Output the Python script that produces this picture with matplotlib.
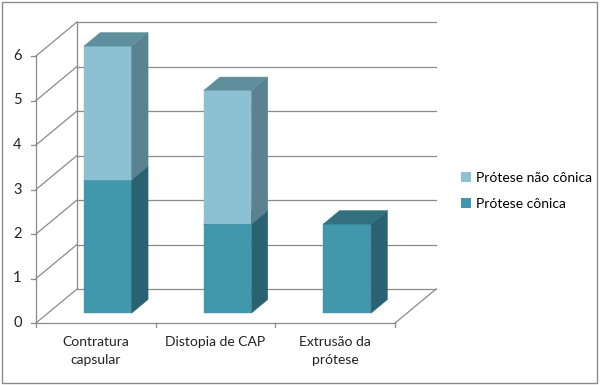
import matplotlib.pyplot as plt
from matplotlib.patches import Polygon, Rectangle

categories = ['Contratura\ncapsular', 'Distopia de CAP', 'Extrusão da\nprótese']
conica = [3, 2, 2]
nao_conica = [3, 3, 0]
series = [('Prótese cônica', conica), ('Prótese não cônica', nao_conica)]
yticks = [0, 1, 2, 3, 4, 5, 6]

# colours per series: front, side, top
front_colors = ['#4198ac', '#8cc1d3']
side_colors = ['#2b6272', '#5b8290']
top_colors = ['#32707f', '#5f8f9d']
grid_color = '#8a8a8a'

plt.rcParams['font.family'] = ['Lato', 'DejaVu Sans']

fig = plt.figure(figsize=(6, 3.85), dpi=100)
ax = fig.add_axes([0, 0, 1, 1])
ax.axis('off')
# one category ~ 119.7 px wide, one unit of value ~ 44.5 px tall
ax.set_xlim(-36 / 119.7, 564 / 119.7)
ax.set_ylim(-62 / 44.5, 323 / 44.5)

DX, DY = 41 / 119.7, 34 / 44.5      # depth offset of the back wall
f0, f1 = 0.29, 0.69                 # front / back depth of the bars
bar_w = 0.4
n = len(categories)
ymax = yticks[-1]

lw = 0.9
# walls and gridlines
for v in yticks:
    ax.plot([DX, n + DX], [v + DY, v + DY], color=grid_color, lw=lw, zorder=1)
    ax.plot([0, DX], [v, v + DY], color=grid_color, lw=lw, zorder=1)
    ax.plot([-0.045, 0], [v, v], color=grid_color, lw=lw, zorder=1)
    ax.text(-0.12, v, str(v), ha='right', va='center', fontsize=10.5, color='#222222')
ax.plot([DX, DX], [DY, ymax + DY], color=grid_color, lw=lw, zorder=1)
ax.plot([0, 0], [0, ymax], color=grid_color, lw=lw, zorder=1)
ax.plot([0, n], [0, 0], color=grid_color, lw=lw, zorder=1)
ax.plot([n, n + DX], [0, DY], color=grid_color, lw=lw, zorder=1)
for i in range(n + 1):
    ax.plot([i, i], [0, -0.09], color=grid_color, lw=lw, zorder=1)

# stacked 3d bars
for i in range(n):
    x0 = i + 0.5 - bar_w / 2 + f0 * DX
    x1 = x0 + bar_w
    ox, oy = (f1 - f0) * DX, (f1 - f0) * DY
    bottom = f0 * DY
    for s, (name, vals) in enumerate(series):
        v = vals[i]
        if v == 0:
            continue
        b, t = bottom, bottom + v
        faces = [
            ([(x0, b), (x1, b), (x1, t), (x0, t)], front_colors[s]),
            ([(x1, b), (x1 + ox, b + oy), (x1 + ox, t + oy), (x1, t)], side_colors[s]),
            ([(x0, t), (x1, t), (x1 + ox, t + oy), (x0 + ox, t + oy)], top_colors[s]),
        ]
        for pts, c in faces:
            ax.add_patch(Polygon(pts, closed=True, fc=c, ec=c, lw=0.3, zorder=3))
        bottom = t

for i, cat in enumerate(categories):
    ax.text(i + 0.5, -0.3, cat, ha='center', va='top', fontsize=10,
            linespacing=1.55, color='#222222')

handles = [Rectangle((0, 0), 1, 1, fc=front_colors[s], ec='none') for s in (1, 0)]
labels = [series[1][0], series[0][0]]
fig.legend(handles, labels, loc='center left', bbox_to_anchor=(0.769, 0.504),
           frameon=False, fontsize=10, handlelength=0.7, handleheight=0.7,
           handletextpad=0.35, labelspacing=1.0, borderpad=0, borderaxespad=0)

fig.patches.append(Rectangle((0.004, 0.006), 0.991, 0.99, transform=fig.transFigure,
                             fill=False, ec='#8c8c8c', lw=1))

fig.savefig('out.png', dpi=100)
